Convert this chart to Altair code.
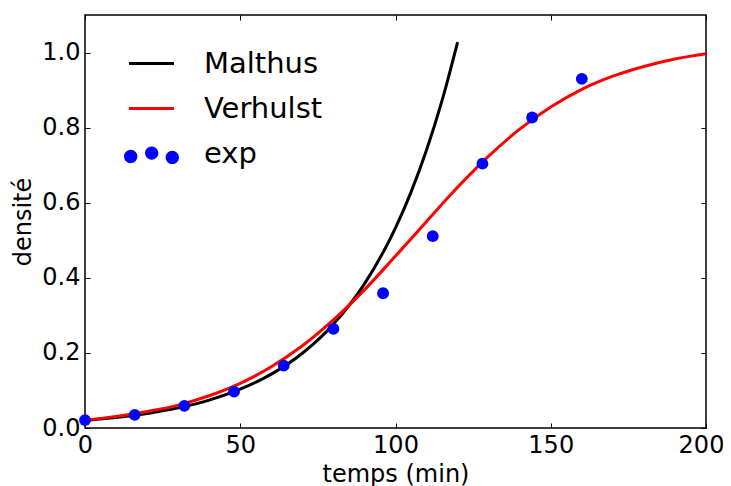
import altair as alt
import pandas as pd

# ---- data ----
series_names = ["Malthus", "Verhulst", "exp"]
series_colors = ["#000000", "#ff0000", "#0000ff"]

malthus_t = [0, 10, 20, 30, 40, 50, 60, 70, 80, 90, 100, 105, 110, 115, 120]
malthus_y = [0.020, 0.0278, 0.0386, 0.0536, 0.0744, 0.1033, 0.1434, 0.1991,
             0.2765, 0.3839, 0.5331, 0.6283, 0.7403, 0.8724, 1.028]

verhulst_t = [0, 10, 20, 30, 40, 50, 60, 70, 80, 90, 100,
              110, 120, 130, 140, 150, 160, 170, 180, 190, 200]
verhulst_y = [0.021, 0.031, 0.044, 0.061, 0.086, 0.119, 0.163, 0.219, 0.288,
              0.368, 0.458, 0.550, 0.641, 0.724, 0.796, 0.855, 0.902, 0.937,
              0.963, 0.983, 0.997]

exp_t = [0, 16, 32, 48, 64, 80, 96, 112, 128, 144, 160]
exp_y = [0.021, 0.035, 0.059, 0.097, 0.166, 0.264, 0.359, 0.511, 0.704, 0.827, 0.930]

x_ticks = [0, 50, 100, 150, 200]
y_ticks = [0.0, 0.2, 0.4, 0.6, 0.8, 1.0]

malthus_df = pd.DataFrame({"t": malthus_t, "y": malthus_y})
verhulst_df = pd.DataFrame({"t": verhulst_t, "y": verhulst_y})
exp_df = pd.DataFrame({"t": exp_t, "y": exp_y})
legend_df = pd.DataFrame({"series": series_names, "t": [0, 0, 0], "y": [0.0, 0.0, 0.0]})

# ---- layout ----
W, H = 621, 413
FONT = "DejaVu Sans"

xs = alt.Scale(domain=[0, 200], nice=False, zero=False)
ys = alt.Scale(domain=[0, 1.1], nice=False, zero=False)

tick_only = dict(labels=False, domain=False, grid=False, ticks=True,
                 tickSize=5, tickColor="black", tickWidth=1)

x_main = alt.Axis(orient="bottom", values=x_ticks, format="d", ticks=False, tickSize=0,
                  labelPadding=5, labelFlush=False, labelOverlap=False,
                  labelOffset={"condition": {"test": "datum.value == 200", "value": -5},
                               "value": 0},
                  labelFontSize=24, labelColor="black", labelFont=FONT,
                  title="temps (min)", titleFontSize=24, titleFontWeight="normal",
                  titleColor="black", titleFont=FONT,
                  titleBaseline="alphabetic", titleY=53,
                  domain=False, grid=False)
y_main = alt.Axis(orient="left", values=y_ticks, format=".1f", ticks=False, tickSize=0,
                  labelPadding=5, labelFlush=False, labelOverlap=False,
                  labelFontSize=24, labelColor="black", labelFont=FONT,
                  title="densité", titleFontSize=24, titleFontWeight="normal",
                  titleColor="black", titleFont=FONT, titlePadding=6,
                  domain=False, grid=False)
# inward ticks on all four sides
x_in_bottom = alt.Axis(orient="top", offset=-H, values=x_ticks, **tick_only)
y_in_left = alt.Axis(orient="right", offset=-W, values=y_ticks, **tick_only)
x_in_top = alt.Axis(orient="bottom", offset=-H, values=x_ticks, **tick_only)
y_in_right = alt.Axis(orient="left", offset=-W, values=y_ticks, **tick_only)

color_scale = alt.Scale(domain=series_names, range=series_colors)

# legend symbols (unit space, scaled by sqrt(symbolSize)/2 = 14.5 px)
line_path = "M-1.552,-0.103L1.552,-0.103L1.552,0.103L-1.552,0.103Z"
r = 0.459


def circ(cx, cy):
    return (f"M{cx - r:.3f},{cy:.3f}A{r},{r},0,1,0,{cx + r:.3f},{cy:.3f}"
            f"A{r},{r},0,1,0,{cx - r:.3f},{cy:.3f}Z")


dots_path = circ(-1.434, 0.2) + circ(0.014, -0.028) + circ(1.434, 0.269)
shape_scale = alt.Scale(domain=series_names, range=[line_path, line_path, dots_path])

leg = alt.Legend(title=None, orient="none", legendX=52, legendY=34, padding=0,
                 symbolSize=841, symbolStrokeWidth=0, symbolOpacity=1, symbolOffset=0,
                 labelFontSize=29, labelFont=FONT, labelColor="black",
                 labelOffset=38, rowPadding=15, labelLimit=400)

malthus = alt.Chart(malthus_df).mark_line(
    strokeWidth=3, interpolate="monotone", color="#000000").encode(
    x=alt.X("t:Q", scale=xs, axis=x_main),
    y=alt.Y("y:Q", scale=ys, axis=y_main),
)
verhulst = alt.Chart(verhulst_df).mark_line(
    strokeWidth=3, interpolate="monotone", color="#ff0000").encode(
    x=alt.X("t:Q", scale=xs, axis=None),
    y=alt.Y("y:Q", scale=ys, axis=None),
)

points = alt.Chart(exp_df).mark_circle(size=140, opacity=1, color="#0000ff").encode(
    x=alt.X("t:Q", scale=xs, axis=x_in_bottom, title=None),
    y=alt.Y("y:Q", scale=ys, axis=y_in_left, title=None),
)

legend_layer = alt.Chart(legend_df).mark_point(filled=True, opacity=0).encode(
    x=alt.X("t:Q", scale=xs, axis=x_in_top, title=None),
    y=alt.Y("y:Q", scale=ys, axis=y_in_right, title=None),
    color=alt.Color("series:N", scale=color_scale, legend=leg),
    shape=alt.Shape("series:N", scale=shape_scale, legend=leg),
)

chart = (
    alt.layer(malthus, verhulst, points, legend_layer)
    .resolve_axis(x="independent", y="independent")
    .properties(width=W, height=H,
                autosize=alt.AutoSizeParams(type="none"),
                padding={"left": 77, "top": 7, "right": 17, "bottom": 58})
    .configure(font=FONT)
    .configure_view(stroke="black", strokeWidth=1.5)
)

chart.save("out.html", embed_options={"renderer": "svg", "actions": False})
